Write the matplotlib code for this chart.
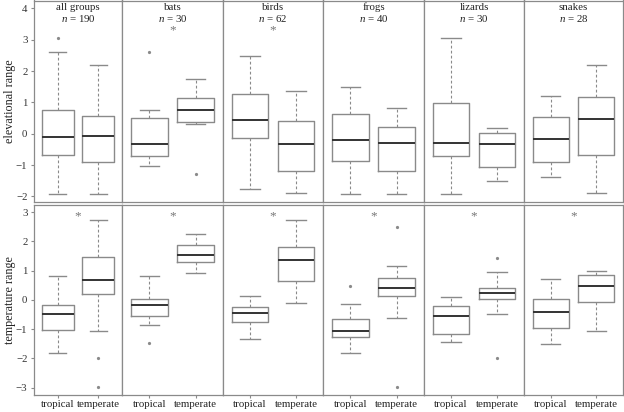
import matplotlib
matplotlib.use('Agg')
import matplotlib.pyplot as plt

plt.rcParams['font.family'] = ['Liberation Serif', 'DejaVu Serif']
plt.rcParams['mathtext.fontset'] = 'custom'
plt.rcParams['mathtext.rm'] = 'Liberation Serif'
plt.rcParams['mathtext.it'] = 'Liberation Serif:italic'

groups = ['all groups', 'bats', 'birds', 'frogs', 'lizards', 'snakes']
group_n = [190, 30, 62, 40, 30, 28]
climates = ['tropical', 'temperate']

# summaries: whisker low, q1, median, q3, whisker high
elev_tropical = [
    [-1.91, -0.67, -0.11, 0.76, 2.62],
    [-1.02, -0.70, -0.33, 0.49, 0.76],
    [-1.75, -0.15, 0.45, 1.26, 2.48],
    [-1.92, -0.86, -0.21, 0.62, 1.50],
    [-1.92, -0.72, -0.30, 0.97, 3.06],
    [-1.37, -0.89, -0.16, 0.53, 1.20],
]
elev_temperate = [
    [-1.91, -0.89, -0.08, 0.58, 2.20],
    [0.31, 0.38, 0.75, 1.15, 1.74],
    [-1.89, -1.18, -0.33, 0.42, 1.35],
    [-1.92, -1.18, -0.28, 0.21, 0.83],
    [-1.50, -1.07, -0.32, 0.02, 0.18],
    [-1.90, -0.67, 0.46, 1.16, 2.20],
]
elev_tropical_out = [[3.06], [2.62], [], [], [], []]
elev_temperate_out = [[], [-1.29], [], [], [], []]

temp_tropical = [
    [-1.81, -1.04, -0.48, -0.18, 0.80],
    [-0.87, -0.56, -0.19, 0.02, 0.80],
    [-1.35, -0.76, -0.44, -0.25, 0.13],
    [-1.81, -1.27, -1.05, -0.65, -0.13],
    [-1.44, -1.16, -0.55, -0.22, 0.10],
    [-1.52, -0.97, -0.40, 0.02, 0.73],
]
temp_temperate = [
    [-1.07, 0.19, 0.67, 1.45, 2.74],
    [0.92, 1.30, 1.53, 1.88, 2.26],
    [-0.09, 0.64, 1.35, 1.80, 2.74],
    [-0.61, 0.14, 0.41, 0.74, 1.17],
    [-0.49, 0.03, 0.24, 0.42, 0.95],
    [-1.07, -0.07, 0.46, 0.86, 1.00],
]
temp_tropical_out = [[], [-1.49], [], [0.49], [], []]
temp_temperate_out = [[-1.97, -2.99], [], [], [2.50, -2.99], [1.44, -1.98], []]

elev_signif = [False, True, True, False, False, False]
temp_signif = [True, True, True, True, True, True]

rows = [
    ('elevational range', elev_tropical, elev_temperate, elev_tropical_out,
     elev_temperate_out, elev_signif, (-2.19, 4.25), [4, 3, 2, 1, 0, -1, -2], 3.30),
    ('temperature range', temp_tropical, temp_temperate, temp_tropical_out,
     temp_temperate_out, temp_signif, (-3.25, 3.24), [3, 2, 1, 0, -1, -2, -3], 2.84),
]

edge = '#8a8a8a'
txt = '#222222'

fig = plt.figure(figsize=(6.24, 4.12), dpi=100)
gs = fig.add_gridspec(2, 6, left=34 / 624, right=623 / 624, top=1 - 0.5 / 412,
                      bottom=1 - 395 / 412, wspace=0, hspace=0.0135,
                      width_ratios=[88, 101, 100, 101, 100, 99],
                      height_ratios=[202, 190])

def make_stats(summary, fliers, label):
    lo, q1, med, q3, hi = summary
    return dict(whislo=lo, q1=q1, med=med, q3=q3, whishi=hi,
                fliers=fliers, label=label)

for r, (ylab, trop, temp, trop_out, temp_out, signif, ylim, yticks, star_y) in enumerate(rows):
    for c, grp in enumerate(groups):
        ax = fig.add_subplot(gs[r, c])
        stats = [make_stats(trop[c], trop_out[c], climates[0]),
                 make_stats(temp[c], temp_out[c], climates[1])]
        ax.bxp(stats, positions=[1, 2], widths=0.8, capwidths=0.42,
               boxprops=dict(color=edge, linewidth=1.0),
               whiskerprops=dict(color=edge, linewidth=0.8, linestyle=(0, (2.5, 2))),
               capprops=dict(color=edge, linewidth=1.0),
               medianprops=dict(color='#333333', linewidth=1.4),
               flierprops=dict(marker='o', markersize=1.3, markerfacecolor=edge,
                               markeredgecolor=edge))
        ax.set_xlim(0.413, 2.587)
        ax.set_ylim(*ylim)
        for sp in ax.spines.values():
            sp.set_color(edge)
            sp.set_linewidth(0.9)
        if signif[c]:
            ax.text(1.5, star_y, '*', ha='center', va='center', fontsize=9.5, color='#777777')
        if r == 0:
            ax.text(0.5, 1 - 9.8 / 202, grp, transform=ax.transAxes, ha='center',
                    va='baseline', fontsize=7.8, color=txt)
            ax.text(0.5, 1 - 21.2 / 202, '$n$ = %d' % group_n[c], transform=ax.transAxes,
                    ha='center', va='baseline', fontsize=7.8, color=txt)
            ax.set_xticks([])
        else:
            ax.set_xticks([1, 2])
            ax.set_xticklabels(climates, fontsize=7.8, color=txt)
            ax.tick_params(axis='x', length=2, color=edge, pad=1.5)
        if c == 0:
            ax.set_yticks(yticks)
            ax.tick_params(axis='y', length=2.2, color=edge, labelsize=7.8,
                           labelcolor='#333333', pad=2.5)
        else:
            ax.set_yticks([])
    mid = 1 - (101.6 if r == 0 else 300) / 412
    fig.text(10.5 / 624, mid, ylab, rotation=90, ha='center', va='center',
             fontsize=8.7, color=txt)

fig.savefig('out.png', dpi=100)
